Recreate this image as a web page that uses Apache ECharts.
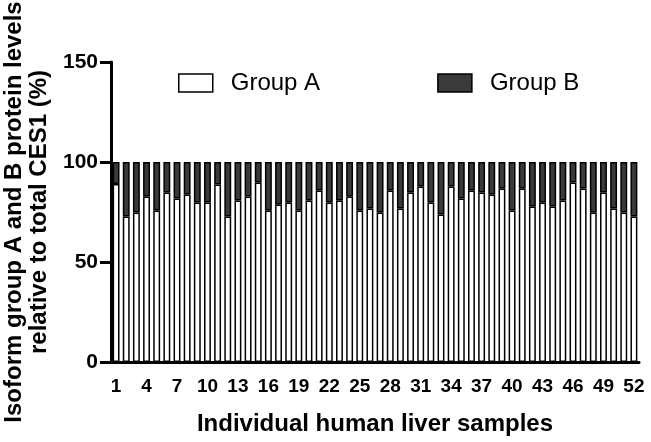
<!DOCTYPE html>
<html>
<head>
<meta charset="utf-8">
<script src="https://cdn.jsdelivr.net/npm/echarts@6/dist/echarts.min.js"></script>
<style>html,body{margin:0;padding:0;background:#fff}#c{width:651px;height:442px}</style>
</head>
<body>
<div id="c"></div>
<script>
const samples = Array.from({length: 52}, (_, i) => String(i + 1));
const groupA = [89, 72.7, 74.8, 82.7, 75.7, 84.7, 81.7, 83.7, 79.8, 79.8,
  88.8, 72.7, 80.7, 82.7, 89.7, 75.7, 78.7, 79.8, 75.7, 80.7,
  85.7, 79.8, 80.7, 82.7, 75.7, 76.7, 74.7, 85.7, 76.7, 84.7,
  87.7, 79.8, 73.7, 87.7, 81.7, 85.7, 84.7, 83.7, 86.7, 75.7,
  86.7, 77.7, 79.8, 77.7, 80.7, 89.7, 86.7, 74.8, 84.7, 76.7,
  74.8, 72.7];
const groupB = groupA.map(v => +(100 - v).toFixed(1));
const yTicks = [0, 50, 100, 150];

const font = '"Liberation Sans", Arial, sans-serif';
const chart = echarts.init(document.getElementById('c'), null, {renderer: 'canvas'});
chart.setOption({
  animation: false,
  textStyle: {fontFamily: font},
  legend: {
    top: 66, left: 173,
    itemGap: 117,
    itemWidth: 34, itemHeight: 18,
    icon: 'rect',
    textStyle: {fontSize: 24, lineHeight: 24, color: '#000', fontFamily: font, padding: [0, 0, 0, 13]},
    data: [
      {name: 'Group A', itemStyle: {color: '#fff', borderColor: '#000', borderWidth: 1.5}},
      {name: 'Group B', itemStyle: {color: '#3a3a3a', borderColor: '#000', borderWidth: 1.5}}
    ]
  },
  grid: {left: 111, top: 62, width: 528, height: 300, containLabel: false, outerBoundsMode: 'none'},
  xAxis: {
    type: 'category',
    data: samples,
    name: 'Individual human liver samples',
    nameLocation: 'middle',
    nameGap: 50,
    nameTextStyle: {fontSize: 24, fontWeight: 'bold', color: '#000', fontFamily: font},
    axisLine: {lineStyle: {color: '#000', width: 3}},
    axisTick: {interval: 2, alignWithLabel: true, length: 12, lineStyle: {color: '#000', width: 3}},
    axisLabel: {interval: 2, fontSize: 19, fontWeight: 'bold', color: '#000', margin: 15, fontFamily: font}
  },
  yAxis: {
    type: 'value',
    min: 0, max: 150, interval: 50,
    name: 'Isoform group A and B protein levels\nrelative to total CES1 (%)',
    nameLocation: 'middle',
    nameGap: 46,
    nameTextStyle: {fontSize: 24, fontWeight: 'bold', color: '#000', lineHeight: 25, fontFamily: font},
    splitLine: {show: false},
    axisLine: {show: true, lineStyle: {color: '#000', width: 3}},
    axisTick: {show: true, length: 11, lineStyle: {color: '#000', width: 3}},
    axisLabel: {fontSize: 21, fontWeight: 'bold', color: '#000', margin: 13, fontFamily: font,
      formatter: v => yTicks.includes(v) ? String(v) : ''}
  },
  series: [
    {name: 'Group A', type: 'bar', stack: 's', data: groupA, barWidth: '68%',
      itemStyle: {color: '#fff', borderColor: '#000', borderWidth: 1.5}},
    {name: 'Group B', type: 'bar', stack: 's', data: groupB, barWidth: '68%',
      itemStyle: {color: '#3a3a3a', borderColor: '#000', borderWidth: 1.5}}
  ]
});
</script>
</body>
</html>
